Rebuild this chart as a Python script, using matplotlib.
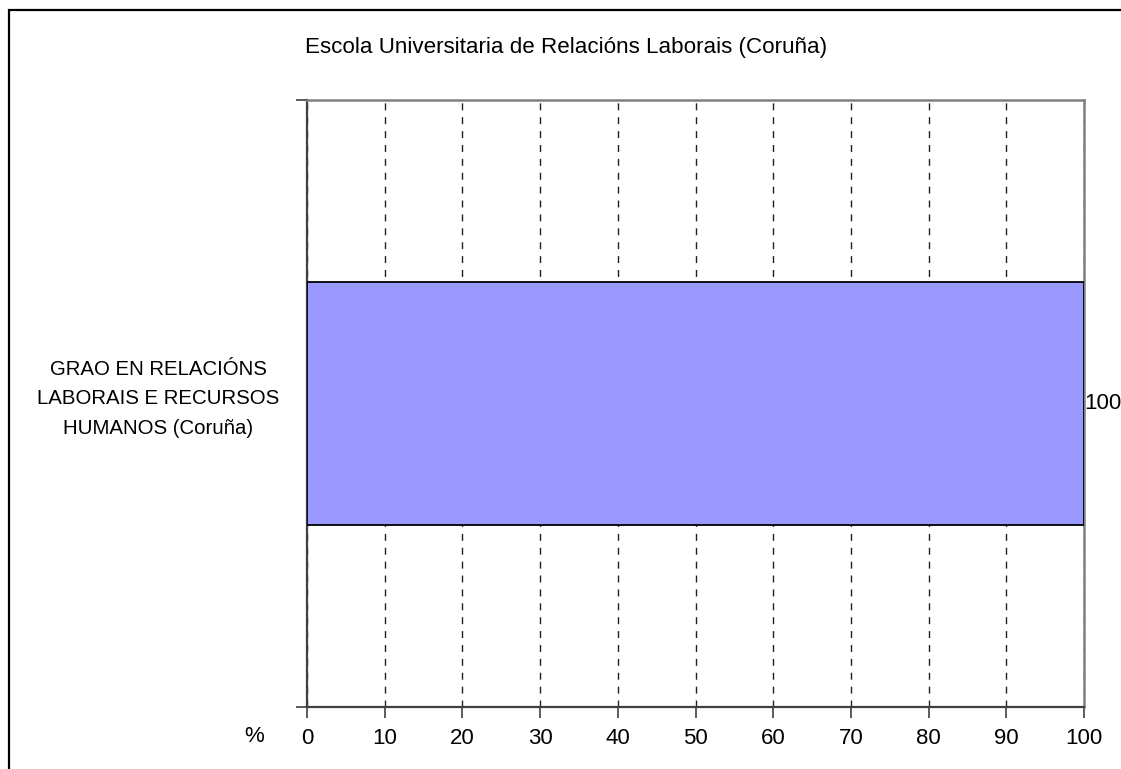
import matplotlib
matplotlib.use("Agg")
import matplotlib.pyplot as plt
from matplotlib.patches import Rectangle

title = "Escola Universitaria de Relacións Laborais (Coruña)"
categories = ["GRAO EN RELACIÓNS\nLABORAIS E RECURSOS\nHUMANOS (Coruña)"]
values = [100]
xticks = [0, 10, 20, 30, 40, 50, 60, 70, 80, 90, 100]

plt.rcParams['font.family'] = ['Liberation Sans', 'DejaVu Sans']

W, H = 1121, 769
fig = plt.figure(figsize=(W / 100, H / 100), dpi=100)
fig.patch.set_facecolor('white')

# outer frame (cut off at right and bottom)
fig.patches.append(Rectangle((9 / W, -0.05), 1.1, 1 - 10 / H + 0.05, transform=fig.transFigure,
                             fill=False, edgecolor='black', linewidth=1.6))

l, r, t, b = 307, 1084, 100, 707
ax = fig.add_axes([l / W, 1 - b / H, (r - l) / W, (b - t) / H])

ax.barh(range(len(values)), values, height=0.4, color='#9999FF', edgecolor='black',
        linewidth=1.3, zorder=3)
ax.set_xlim(0, 100)
ax.set_ylim(-0.5, len(values) - 0.5)
ax.set_xticks(xticks)
ax.set_xticklabels([str(v) for v in xticks], fontsize=16)
ax.set_yticks([-0.5 + i for i in range(len(values) + 1)])
ax.set_yticklabels([])
ax.tick_params(axis='both', direction='out', length=8, width=1.2, color='#404040')
ax.tick_params(axis='x', pad=7)

ax.xaxis.grid(True, color='#202020', linestyle=(0, (5, 5)), linewidth=1)
ax.set_axisbelow(True)

for s in ['left', 'bottom']:
    ax.spines[s].set_color('#404040')
    ax.spines[s].set_linewidth(1.6)
for s in ['top', 'right']:
    ax.spines[s].set_color('#808080')
    ax.spines[s].set_linewidth(1.8)

for i, v in enumerate(values):
    ax.text(v, i, str(v), ha='left', va='center', fontsize=16, clip_on=False)
    fig.text(158 / W, 1 - 399 / H, categories[i], ha='center', va='center', fontsize=14.7,
             linespacing=1.68)

fig.text(566 / W, 1 - 47 / H, title, ha='center', va='center', fontsize=16.1)
fig.text(254 / W, 1 - 737 / H, "%", ha='center', va='center', fontsize=16)

fig.savefig("out.png", dpi=100)
